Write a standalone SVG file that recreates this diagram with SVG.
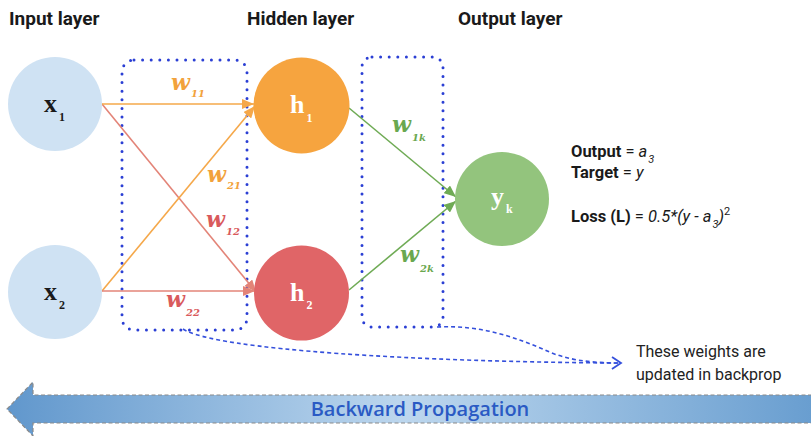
<svg xmlns="http://www.w3.org/2000/svg" width="811" height="436" viewBox="0 0 811 436">
  <style>
    .hdr { font-family: Roboto, "Liberation Sans", sans-serif; font-weight: 700; font-size: 19px; fill: #1a1a1a; }
    .node-lbl { font-family: "Liberation Serif", serif; font-weight: 700; font-size: 26px; }
    .node-sub { font-family: "Liberation Serif", serif; font-weight: 700; font-size: 12px; }
    .w { font-family: "DejaVu Serif", serif; font-weight: 700; font-style: italic; font-size: 22px; }
    .wsub { font-family: "DejaVu Serif", serif; font-weight: 700; font-style: italic; font-size: 10px; }
    .eq { font-family: Roboto, "Liberation Sans", sans-serif; font-size: 16.5px; fill: #1a1a1a; }
    .note { font-family: Roboto, "Liberation Sans", sans-serif; font-size: 16px; fill: #222; }
    .group-box { fill: none; stroke: #2b3fd4; stroke-width: 3; stroke-linecap: round; stroke-dasharray: 0 8.6; }
    .orange { stroke: #f5a84a; fill: none; stroke-width: 1.6; }
    .red { stroke: #e38478; fill: none; stroke-width: 1.6; }
    .green { stroke: #6fab55; fill: none; stroke-width: 1.6; }
    .blue-dash { stroke: #3550dc; fill: none; stroke-width: 1.6; stroke-dasharray: 4 3; }
  </style>
  <defs>
    <marker id="ah-orange" markerUnits="userSpaceOnUse" markerWidth="13" markerHeight="10" refX="12" refY="5" orient="auto">
      <path d="M0,0 L12,5 L0,10 z" fill="#f5a84a"/>
    </marker>
    <marker id="ah-red" markerUnits="userSpaceOnUse" markerWidth="13" markerHeight="10" refX="12" refY="5" orient="auto">
      <path d="M0,0 L12,5 L0,10 z" fill="#e38478"/>
    </marker>
    <marker id="ah-green" markerUnits="userSpaceOnUse" markerWidth="13" markerHeight="10" refX="12" refY="5" orient="auto">
      <path d="M0,0 L12,5 L0,10 z" fill="#6fab55"/>
    </marker>
    <marker id="ah-open-blue" markerUnits="userSpaceOnUse" markerWidth="12" markerHeight="14" refX="10" refY="7" orient="auto">
      <path d="M1,1 L10,7 L1,13" fill="none" stroke="#3550dc" stroke-width="1.8"/>
    </marker>
    <linearGradient id="band" x1="0" y1="0" x2="811" y2="0" gradientUnits="userSpaceOnUse">
      <stop offset="0" stop-color="#5f96cc"/>
      <stop offset="0.5" stop-color="#bdd7ee"/>
      <stop offset="1" stop-color="#699ed0"/>
    </linearGradient>
  </defs>

  <rect width="811" height="436" fill="#ffffff"/>

  <!-- layer headings -->
  <text class="hdr" x="9" y="25">Input layer</text>
  <text class="hdr" x="247" y="25">Hidden layer</text>
  <text class="hdr" x="458" y="25">Output layer</text>

  <!-- dotted boxes around the weight layers -->
  <rect class="group-box" x="122" y="60" width="125" height="270" rx="12"/>
  <rect class="group-box" x="362" y="57" width="81" height="270" rx="10"/>

  <!-- connectors -->
  <g id="connectors">
    <path class="red" d="M102,104 L256,292" marker-end="url(#ah-red)"/>
    <path class="orange" d="M102,291 L255,106" marker-end="url(#ah-orange)"/>
    <path class="orange" d="M102,104 L254,104" marker-end="url(#ah-orange)"/>
    <path class="red" d="M102,291 L255,291" marker-end="url(#ah-red)"/>
    <path class="green" d="M349,108 L456,197" marker-end="url(#ah-green)"/>
    <path class="green" d="M349,290 L456,201" marker-end="url(#ah-green)"/>

    <!-- weight labels -->
    <text class="w" x="171" y="90" fill="#f2a23c">w<tspan class="wsub" dx="1" dy="7">11</tspan></text>
    <text class="w" x="207" y="182" fill="#f2a23c">w<tspan class="wsub" dx="1" dy="7">21</tspan></text>
    <text class="w" x="206" y="227" fill="#d95a5c">w<tspan class="wsub" dx="1" dy="8">12</tspan></text>
    <text class="w" x="166" y="307" fill="#d95a5c">w<tspan class="wsub" dx="1" dy="9">22</tspan></text>
    <text class="w" x="392" y="132" fill="#6aa84f">w<tspan class="wsub" dx="1" dy="9">1k</tspan></text>
    <text class="w" x="400" y="262" fill="#6aa84f">w<tspan class="wsub" dx="1" dy="10">2k</tspan></text>

    <!-- dashed pointers to the note -->
    <path class="blue-dash" d="M183,329 C215,350 420,362 621,363" marker-end="url(#ah-open-blue)"/>
    <path class="blue-dash" d="M437,327 C480,325 512,336 545,350 C566,360 590,363 621,363"/>
  </g>

  <!-- nodes -->
  <g id="node-x1">
    <circle cx="55" cy="104" r="47" fill="#cfe2f3"/>
    <text class="node-lbl" x="44" y="112" fill="#1a1a1a">x<tspan class="node-sub" dx="2" dy="9">1</tspan></text>
  </g>
  <g id="node-x2">
    <circle cx="55" cy="292" r="47" fill="#cfe2f3"/>
    <text class="node-lbl" x="44" y="300" fill="#1a1a1a">x<tspan class="node-sub" dx="2" dy="9">2</tspan></text>
  </g>
  <g id="node-h1">
    <circle cx="301.5" cy="105.5" r="48" fill="#f6a43f"/>
    <text class="node-lbl" x="290" y="113" fill="#ffffff">h<tspan class="node-sub" dx="2" dy="9">1</tspan></text>
  </g>
  <g id="node-h2">
    <circle cx="301.5" cy="293" r="47.5" fill="#e06567"/>
    <text class="node-lbl" x="290" y="301" fill="#ffffff">h<tspan class="node-sub" dx="2" dy="8">2</tspan></text>
  </g>
  <g id="node-yk">
    <circle cx="502" cy="199" r="47" fill="#93c47d"/>
    <text class="node-lbl" x="491" y="205" fill="#ffffff">y<tspan class="node-sub" dx="2" dy="8">k</tspan></text>
  </g>

  <!-- output / loss definitions -->
  <g id="loss-text">
    <text class="eq" x="571" y="157"><tspan font-weight="700">Output</tspan> = <tspan font-style="italic">a</tspan><tspan font-style="italic" font-size="11px" dx="1" dy="6">3</tspan></text>
    <text class="eq" x="571" y="178"><tspan font-weight="700">Target</tspan> = <tspan font-style="italic">y</tspan></text>
    <text class="eq" x="571" y="222"><tspan font-weight="700">Loss (L)</tspan> = <tspan font-style="italic">0.5*(y - a</tspan><tspan font-style="italic" font-size="11px" dx="1" dy="6">3</tspan><tspan font-style="italic" dy="-6">)</tspan><tspan font-size="11px" dy="-7">2</tspan></text>
  </g>

  <!-- note -->
  <g id="note">
    <text class="note" x="636" y="357">These weights are</text>
    <text class="note" x="636" y="380">updated in backprop</text>
  </g>

  <!-- backward propagation band -->
  <g id="backprop-arrow">
    <path d="M812,395 L33,395 L33,382 L7,409 L33,436 L33,423 L812,423" fill="url(#band)" stroke="#8a8a8a" stroke-width="1.2" stroke-dasharray="4 2.5"/>
    <text x="420" y="416" text-anchor="middle" font-family="'Open Sans', 'Noto Sans', sans-serif" font-weight="600" font-size="20px" fill="#2a5ac4">Backward Propagation</text>
  </g>
</svg>
